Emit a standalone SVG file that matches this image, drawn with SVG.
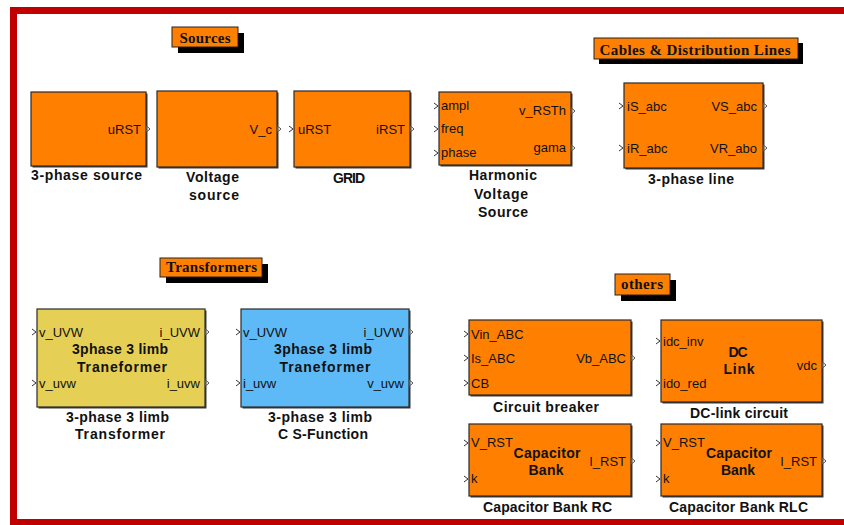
<svg xmlns="http://www.w3.org/2000/svg" xmlns:xlink="http://www.w3.org/1999/xlink" width="844" height="525" viewBox="0 0 844 525">
<style>
.blk{stroke:#2a2a2a;stroke-width:1.2}
.shd{fill:#3a3a3a}
.or{fill:#ff8000}
.ye{fill:#e6cf55}
.bl{fill:#5ebaf7}
.pt{font-family:"Liberation Sans",Arial,sans-serif;font-size:13px;fill:#111}
.ptr{font-family:"Liberation Sans",Arial,sans-serif;font-size:13px;fill:#111;text-anchor:end}
.ct{font-family:"Liberation Sans",Arial,sans-serif;font-size:14px;font-weight:bold;fill:#111;text-anchor:middle}
.lb{font-family:"Liberation Sans",Arial,sans-serif;font-size:14px;font-weight:bold;fill:#111;text-anchor:middle}
.hd{font-family:"Liberation Serif","Times New Roman",serif;font-size:15px;font-weight:bold;fill:#111;text-anchor:middle}
.hr{fill:#ff8000;stroke:#222;stroke-width:1}
.hs{fill:#000}
.op{fill:none;stroke:#555;stroke-width:1}
.ip{fill:none;stroke:#333;stroke-width:1}
</style>
<defs>
<path id="out" class="op" d="M0.5,-3 L4,0 L0.5,3 Z"/>
<path id="in" class="ip" d="M-5,-3 L-1,0 L-5,3"/>
</defs>
<rect width="844" height="525" fill="#ffffff"/>
<g id="frame" fill="#c00000">
<rect x="10" y="7" width="834" height="7"/>
<rect x="10" y="7" width="7" height="518"/>
<rect x="10" y="519" width="834" height="6"/>
</g>
<g id="connectors"/>
<g id="hdr-sources">
<rect class="hs" x="178" y="33" width="66" height="20"/>
<rect class="hr" x="172" y="27" width="66" height="20"/>
<text class="hd" x="205" y="43" textLength="51" lengthAdjust="spacing">Sources</text>
</g>
<g id="hdr-cables">
<rect class="hs" x="599" y="43" width="204" height="21"/>
<rect class="hr" x="594" y="38" width="204" height="21"/>
<text class="hd" x="695" y="55" textLength="191" lengthAdjust="spacing">Cables &amp; Distribution Lines</text>
</g>
<g id="hdr-transformers">
<rect class="hs" x="166" y="264" width="102" height="19"/>
<rect class="hr" x="160" y="258" width="102" height="19"/>
<text class="hd" x="211.5" y="272" textLength="91" lengthAdjust="spacing">Transformers</text>
</g>
<g id="hdr-others">
<rect class="hs" x="621" y="280" width="55" height="21"/>
<rect class="hr" x="615" y="274" width="55" height="21"/>
<text class="hd" x="642" y="289" textLength="42" lengthAdjust="spacing">others</text>
</g>
<g id="src3">
<rect class="shd" x="32.5" y="93.5" width="115" height="74"/>
<rect class="blk or" x="31" y="92" width="115" height="74"/>
<text class="ptr" x="141" y="134">uRST</text>
<use xlink:href="#out" x="146" y="129"/>
<text class="lb" x="86.5" y="180" textLength="111" lengthAdjust="spacing">3-phase source</text>
</g>
<g id="vsrc">
<rect class="shd" x="158.5" y="92.5" width="120" height="76"/>
<rect class="blk or" x="157" y="91" width="120" height="76"/>
<text class="ptr" x="272" y="134">V_c</text>
<use xlink:href="#out" x="277" y="129"/>
<text class="lb" x="212.5" y="182" textLength="53" lengthAdjust="spacing">Voltage</text>
<text class="lb" x="214" y="200" textLength="50" lengthAdjust="spacing">source</text>
</g>
<g id="grid">
<rect class="shd" x="295.5" y="92.5" width="116" height="76"/>
<rect class="blk or" x="294" y="91" width="116" height="76"/>
<use xlink:href="#in" x="294" y="129"/>
<text class="pt" x="298" y="134">uRST</text>
<text class="ptr" x="405" y="134">iRST</text>
<use xlink:href="#out" x="410" y="129"/>
<text class="lb" x="349" y="183" textLength="32" lengthAdjust="spacing">GRID</text>
</g>
<g id="harmonic">
<rect class="shd" x="440.5" y="93.5" width="132" height="73"/>
<rect class="blk or" x="439" y="92" width="132" height="73"/>
<use xlink:href="#in" x="439" y="106"/>
<text class="pt" x="441" y="110">ampl</text>
<use xlink:href="#in" x="439" y="129"/>
<text class="pt" x="441" y="133">freq</text>
<use xlink:href="#in" x="439" y="153"/>
<text class="pt" x="441" y="157">phase</text>
<text class="ptr" x="566" y="115">v_RSTh</text>
<use xlink:href="#out" x="571" y="111"/>
<text class="ptr" x="566" y="152">gama</text>
<use xlink:href="#out" x="571" y="148"/>
<text class="lb" x="503" y="180" textLength="68" lengthAdjust="spacing">Harmonic</text>
<text class="lb" x="501" y="199" textLength="54" lengthAdjust="spacing">Voltage</text>
<text class="lb" x="503" y="217" textLength="50" lengthAdjust="spacing">Source</text>
</g>
<g id="line3">
<rect class="shd" x="625.5" y="84.5" width="139" height="85"/>
<rect class="blk or" x="624" y="83" width="139" height="85"/>
<use xlink:href="#in" x="624" y="106"/>
<text class="pt" x="627" y="111">iS_abc</text>
<use xlink:href="#in" x="624" y="148"/>
<text class="pt" x="627" y="153">iR_abc</text>
<text class="ptr" x="757" y="111">VS_abc</text>
<use xlink:href="#out" x="763" y="106"/>
<text class="ptr" x="757" y="153">VR_abo</text>
<use xlink:href="#out" x="763" y="148"/>
<text class="lb" x="691" y="184" textLength="86" lengthAdjust="spacing">3-phase line</text>
</g>
<g id="trafo">
<rect class="shd" x="38.5" y="310.5" width="168" height="98"/>
<rect class="blk ye" x="37" y="309" width="168" height="98"/>
<use xlink:href="#in" x="37" y="332"/>
<text class="pt" x="39" y="337">v_UVW</text>
<use xlink:href="#in" x="37" y="383"/>
<text class="pt" x="39" y="388">v_uvw</text>
<text class="ptr" x="200" y="337">i_UVW</text>
<use xlink:href="#out" x="205" y="332"/>
<text class="ptr" x="200" y="388">i_uvw</text>
<use xlink:href="#out" x="205" y="383"/>
<text class="ct" x="120" y="354" textLength="96" lengthAdjust="spacing">3phase 3 limb</text>
<text class="ct" x="122" y="372" textLength="90" lengthAdjust="spacing">Traneformer</text>
<text class="lb" x="117.5" y="422" textLength="103" lengthAdjust="spacing">3-phase 3 limb</text>
<text class="lb" x="120" y="439" textLength="90" lengthAdjust="spacing">Transformer</text>
</g>
<g id="trafo-sfun">
<rect class="shd" x="242.5" y="310.5" width="168" height="98"/>
<rect class="blk bl" x="241" y="309" width="168" height="98"/>
<use xlink:href="#in" x="241" y="332"/>
<text class="pt" x="243" y="337">v_UVW</text>
<use xlink:href="#in" x="241" y="383"/>
<text class="pt" x="243" y="388">i_uvw</text>
<text class="ptr" x="404" y="337">i_UVW</text>
<use xlink:href="#out" x="409" y="332"/>
<text class="ptr" x="404" y="388">v_uvw</text>
<use xlink:href="#out" x="409" y="383"/>
<text class="ct" x="323" y="354" textLength="98" lengthAdjust="spacing">3phase 3 limb</text>
<text class="ct" x="325" y="372" textLength="91" lengthAdjust="spacing">Traneformer</text>
<text class="lb" x="320" y="422" textLength="104" lengthAdjust="spacing">3-phase 3 limb</text>
<text class="lb" x="323" y="439" textLength="90" lengthAdjust="spacing">C S-Function</text>
</g>
<g id="breaker">
<rect class="shd" x="470.5" y="321.5" width="162" height="75"/>
<rect class="blk or" x="469" y="320" width="162" height="75"/>
<use xlink:href="#in" x="469" y="334"/>
<text class="pt" x="471" y="339">Vin_ABC</text>
<use xlink:href="#in" x="469" y="358"/>
<text class="pt" x="471" y="363">Is_ABC</text>
<use xlink:href="#in" x="469" y="383"/>
<text class="pt" x="471" y="388">CB</text>
<text class="ptr" x="626" y="363">Vb_ABC</text>
<use xlink:href="#out" x="631" y="358"/>
<text class="lb" x="546" y="412" textLength="106" lengthAdjust="spacing">Circuit breaker</text>
</g>
<g id="dclink">
<rect class="shd" x="662.5" y="321.5" width="161" height="82"/>
<rect class="blk or" x="661" y="320" width="161" height="82"/>
<use xlink:href="#in" x="661" y="341"/>
<text class="pt" x="663" y="346">idc_inv</text>
<use xlink:href="#in" x="661" y="383"/>
<text class="pt" x="663" y="388">ido_red</text>
<text class="ptr" x="817" y="370">vdc</text>
<use xlink:href="#out" x="822" y="365"/>
<text class="ct" x="738" y="357" textLength="19" lengthAdjust="spacing">DC</text>
<text class="ct" x="739" y="374" textLength="31" lengthAdjust="spacing">Link</text>
<text class="lb" x="739" y="418" textLength="98" lengthAdjust="spacing">DC-link circuit</text>
</g>
<g id="capRC">
<rect class="shd" x="470.5" y="425.5" width="162" height="72"/>
<rect class="blk or" x="469" y="424" width="162" height="72"/>
<use xlink:href="#in" x="469" y="443"/>
<text class="pt" x="471" y="447">V_RST</text>
<use xlink:href="#in" x="469" y="479"/>
<text class="pt" x="471" y="483">k</text>
<text class="ptr" x="626" y="466">I_RST</text>
<use xlink:href="#out" x="631" y="461"/>
<text class="ct" x="547" y="458" textLength="67" lengthAdjust="spacing">Capacitor</text>
<text class="ct" x="546" y="475" textLength="35" lengthAdjust="spacing">Bank</text>
<text class="lb" x="547.5" y="512" textLength="129" lengthAdjust="spacing">Capacitor Bank RC</text>
</g>
<g id="capRLC">
<rect class="shd" x="662.5" y="425.5" width="161" height="72"/>
<rect class="blk or" x="661" y="424" width="161" height="72"/>
<use xlink:href="#in" x="661" y="443"/>
<text class="pt" x="663" y="447">V_RST</text>
<use xlink:href="#in" x="661" y="479"/>
<text class="pt" x="663" y="483">k</text>
<text class="ptr" x="817" y="466">I_RST</text>
<use xlink:href="#out" x="822" y="461"/>
<text class="ct" x="739" y="458" textLength="66" lengthAdjust="spacing">Capacitor</text>
<text class="ct" x="738" y="475" textLength="34" lengthAdjust="spacing">Bank</text>
<text class="lb" x="738.5" y="512" textLength="139" lengthAdjust="spacing">Capacitor Bank RLC</text>
</g>
</svg>
